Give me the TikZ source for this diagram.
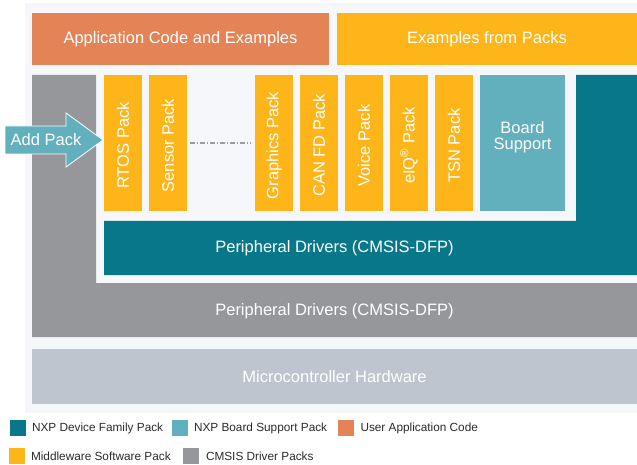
\documentclass[tikz,border=0pt]{standalone}
\usepackage{fontspec}
\setmainfont{Liberation Sans}
\definecolor{panel}{HTML}{F5F7FA}
\definecolor{nxporange}{HTML}{E48355}
\definecolor{nxpyellow}{HTML}{FDB51A}
\definecolor{nxpteal}{HTML}{087789}
\definecolor{lightteal}{HTML}{62AFBD}
\definecolor{cmsisgray}{HTML}{96979B}
\definecolor{hwgray}{HTML}{BEC5CE}
\definecolor{legtext}{HTML}{2B2B2B}
\definecolor{dashgray}{HTML}{9A9B9E}
\begin{document}
\begin{tikzpicture}[x=1pt,y=-1pt,
  every node/.style={inner sep=0pt, outer sep=0pt},
  mainfont/.style={font=\fontsize{16.5}{17}\selectfont, text=white},
  blk/.style={rectangle, anchor=north west, mainfont},
  pack/.style={rectangle, fill=nxpyellow, rotate=90, minimum width=136pt, minimum height=38pt, mainfont},
  legsq/.style={rectangle, minimum width=16pt, minimum height=16pt},
  legtxt/.style={anchor=west, font=\fontsize{11.8}{13}\selectfont, text=legtext},
  dashline/.style={draw=dashgray, line width=1.2pt, dash pattern=on 5pt off 2pt on 1pt off 2pt}
]
\useasboundingbox (0,0) rectangle (637,465);
\fill[white] (0,0) rectangle (637,465);
\fill[panel] (25,3) rectangle (637,413);

% top row
\node[blk, fill=nxporange, minimum width=297pt, minimum height=52pt] (app) at (32,13) {Application Code and Examples};
\node[blk, fill=nxpyellow, minimum width=300pt, minimum height=52pt] (examples) at (337,13) {Examples from Packs};

% CMSIS driver L-shape
\fill[cmsisgray] (32,75) -- (96,75) -- (96,283) -- (637,283) -- (637,337) -- (32,337) -- cycle;
\node[mainfont] (cmsisdrv) at (334.5,311) {Peripheral Drivers (CMSIS-DFP)};

% Device family pack L-shape
\fill[nxpteal] (576,75) -- (637,75) -- (637,275) -- (104,275) -- (104,221) -- (576,221) -- cycle;
\node[mainfont] (dfp) at (334.5,248) {Peripheral Drivers (CMSIS-DFP)};

% middleware packs
\node[pack] (rtos) at (123,143) {RTOS Pack\hspace*{5pt}};
\node[pack] (sensor) at (168,143) {Sensor Pack\hspace*{5pt}};
\node[pack] (graphics) at (274,143) {Graphics Pack\hspace*{5pt}};
\node[pack] (canfd) at (319,143) {CAN FD Pack\hspace*{5pt}};
\node[pack] (voice) at (364,143) {Voice Pack\hspace*{5pt}};
\node[pack] (eiq) at (409,143) {eIQ\textsuperscript{\textregistered} Pack\hspace*{5pt}};
\node[pack] (tsn) at (454,143) {TSN Pack\hspace*{5pt}};

% board support
\node[blk, fill=lightteal, minimum width=85pt, minimum height=136pt] (bsp) at (480,75) {};
\node[mainfont, align=center] (bsptext) at ([yshift=6pt]bsp.center) {Board\\[-1pt]Support};

% dotted connector between packs
\draw[dashline, shorten <=3pt, shorten >=4pt] (sensor) -- (graphics);

% Add Pack arrow
\filldraw[fill=lightteal, draw=white, line width=0.8pt]
  (5,126) -- (66,126) -- (66,113) -- (103,140) -- (66,167) -- (66,154) -- (5,154) -- cycle;
\node[mainfont] (addpack) at (46,140) {Add Pack};

% hardware
\node[blk, fill=hwgray, minimum width=605pt, minimum height=55pt] (hw) at (32,349) {Microcontroller Hardware};

% legend
\node[legsq, fill=nxpteal] (l1) at (18,428) {};
\node[legtxt] (t1) at (32,428) {NXP Device Family Pack};
\node[legsq, fill=lightteal] (l2) at (180,428) {};
\node[legtxt] (t2) at (194,428) {NXP Board Support Pack};
\node[legsq, fill=nxporange] (l3) at (346,428) {};
\node[legtxt] (t3) at (360.5,428) {User Application Code};
\node[legsq, fill=nxpyellow] (l4) at (17,456) {};
\node[legtxt] (t4) at (31,456) {Middleware Software Pack};
\node[legsq, fill=cmsisgray] (l5) at (191,456) {};
\node[legtxt] (t5) at (206,456) {CMSIS Driver Packs};
\end{tikzpicture}
\end{document}
